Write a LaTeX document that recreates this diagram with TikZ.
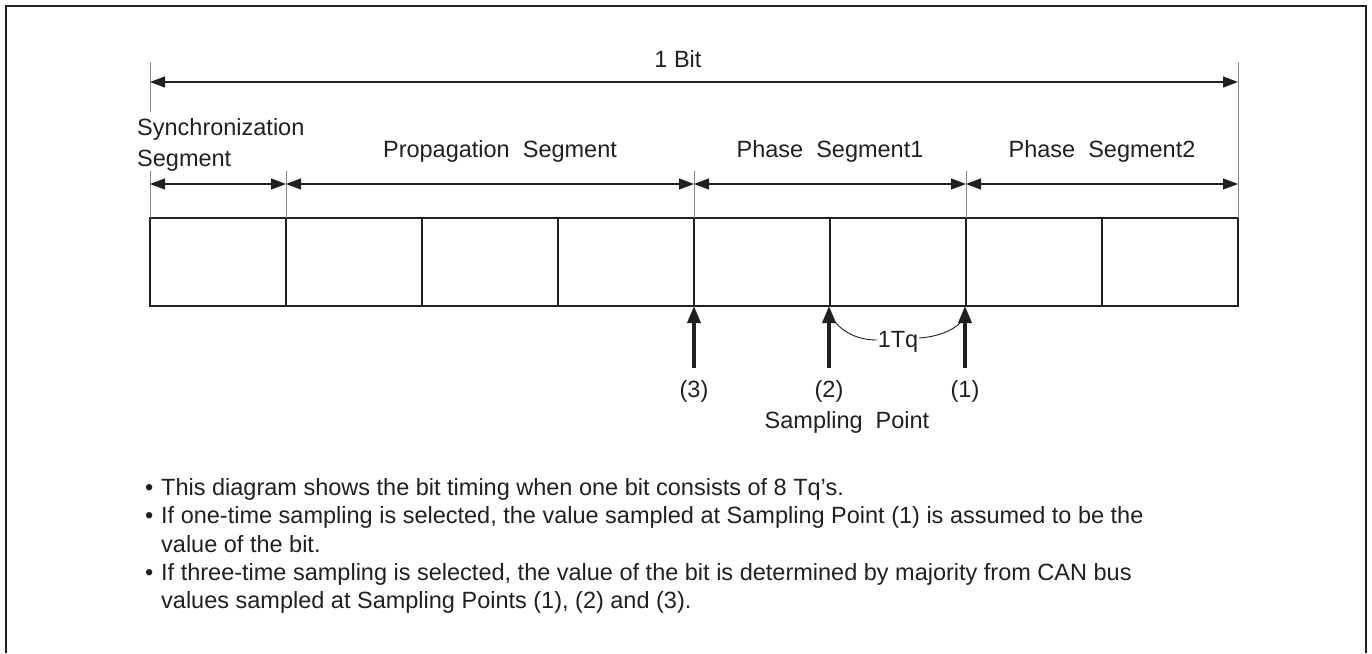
\documentclass[tikz,border=0pt]{standalone}
\usepackage{fontspec}
\setmainfont{Liberation Sans}
\usetikzlibrary{arrows.meta}
\definecolor{ink}{HTML}{231F20}
\definecolor{guidegray}{HTML}{8A8A8A}
\begin{document}
\begin{tikzpicture}[x=1pt,y=-1pt,
  lbl/.style={font=\fontsize{23.5}{28}\selectfont, text=ink, inner sep=0pt, anchor=base},
  lblw/.style={lbl, anchor=base west},
  dim/.style={draw=ink, line width=1.2pt, {Triangle[length=15pt,width=11pt]}-{Triangle[length=15pt,width=11pt]}},
  guide/.style={draw=guidegray, line width=1pt},
  cell/.style={draw=ink, line width=2pt, minimum width=136pt, minimum height=88pt, inner sep=0pt},
  samp/.style={draw=ink, line width=3.5pt, -{Triangle[length=17pt,width=13pt]}},
  thin/.style={draw=ink, line width=0.9pt}]
\useasboundingbox (0,0) rectangle (1372,653);
% frame
\draw[ink, line width=1.5pt] (6,653) -- (6,6) -- (1366,6) -- (1366,653);
% cells
\foreach \i in {0,...,7}{
  \node[cell] (cell\i) at (218+136*\i,262) {};
}
% guide coordinates
\coordinate (gTopL) at (150,62);
\coordinate (gTopLb) at (150,112);
\coordinate (gTopR) at (1238,62);
\coordinate (gA) at (150,171);
\coordinate (gB) at (286,171);
\coordinate (gC) at (694,171);
\coordinate (gD) at (966,171);
\coordinate (gAe) at (150,218);
\coordinate (gBe) at (286,218);
\coordinate (gCe) at (694,218);
\coordinate (gDe) at (966,218);
\coordinate (gEe) at (1238,218);
\draw[guide] (gTopL) -- (gTopLb);
\draw[guide] (gTopR) -- (gEe);
\draw[guide] (gA) -- (gAe);
\draw[guide] (gB) -- (gBe);
\draw[guide] (gC) -- (gCe);
\draw[guide] (gD) -- (gDe);
% dimension arrows
\coordinate (bitL) at (150,82);
\coordinate (bitR) at (1238,82);
\draw[dim] (bitL) -- (bitR);
\coordinate (s0) at (150,184);
\coordinate (s1) at (286,184);
\coordinate (s2) at (694,184);
\coordinate (s3) at (966,184);
\coordinate (s4) at (1238,184);
\draw[dim] (s0) -- (s1);
\draw[dim] (s1) -- (s2);
\draw[dim] (s2) -- (s3);
\draw[dim] (s3) -- (s4);
% labels
\node[lbl] (bit) at (678,67) {1 Bit};
\node[lblw] (sync1) at (137,135) {Synchronization};
\node[lblw] (sync2) at (137,166) {Segment};
\node[lbl] (prop) at (500,157) {Propagation~~Segment};
\node[lbl] (ph1) at (830,157) {Phase~~Segment1};
\node[lbl] (ph2) at (1102,157) {Phase~~Segment2};
% sampling arrows
\coordinate (p3b) at (694,368);
\coordinate (p3t) at (694,306);
\coordinate (p2b) at (829,368);
\coordinate (p2t) at (829,306);
\coordinate (p1b) at (965,368);
\coordinate (p1t) at (965,306);
\draw[samp] (p3b) -- (p3t);
\draw[samp] (p2b) -- (p2t);
\draw[samp] (p1b) -- (p1t);
\node[lbl] (n3) at (694,397) {(3)};
\node[lbl] (n2) at (829,397) {(2)};
\node[lbl] (n1) at (965,397) {(1)};
\node[lbl] (sp) at (847,428) {Sampling~~Point};
% 1Tq
\node[lbl] (tq) at (898,347) {1Tq};
\coordinate (tqL) at (877,340);
\coordinate (tqR) at (919,338);
\coordinate (arcL) at (835,322);
\coordinate (arcR) at (961,322);
\draw[thin] (arcL) .. controls (845,334) and (860,340) .. (tqL);
\draw[thin] (tqR) .. controls (936,337) and (953,331) .. (arcR);
% notes
\node[lblw] (d1) at (145,495) {•};
\node[lblw] (t1) at (161,495) {This diagram shows the bit timing when one bit consists of 8 Tq's.};
\node[lblw] (d2) at (145,523) {•};
\node[lblw] (t2) at (161,523) {If one-time sampling is selected, the value sampled at Sampling Point (1) is assumed to be the};
\node[lblw] (t3) at (161,552) {value of the bit.};
\node[lblw] (d4) at (145,580) {•};
\node[lblw] (t4) at (161,580) {If three-time sampling is selected, the value of the bit is determined by majority from CAN bus};
\node[lblw] (t5) at (161,608) {values sampled at Sampling Points (1), (2) and (3).};
\end{tikzpicture}
\end{document}
